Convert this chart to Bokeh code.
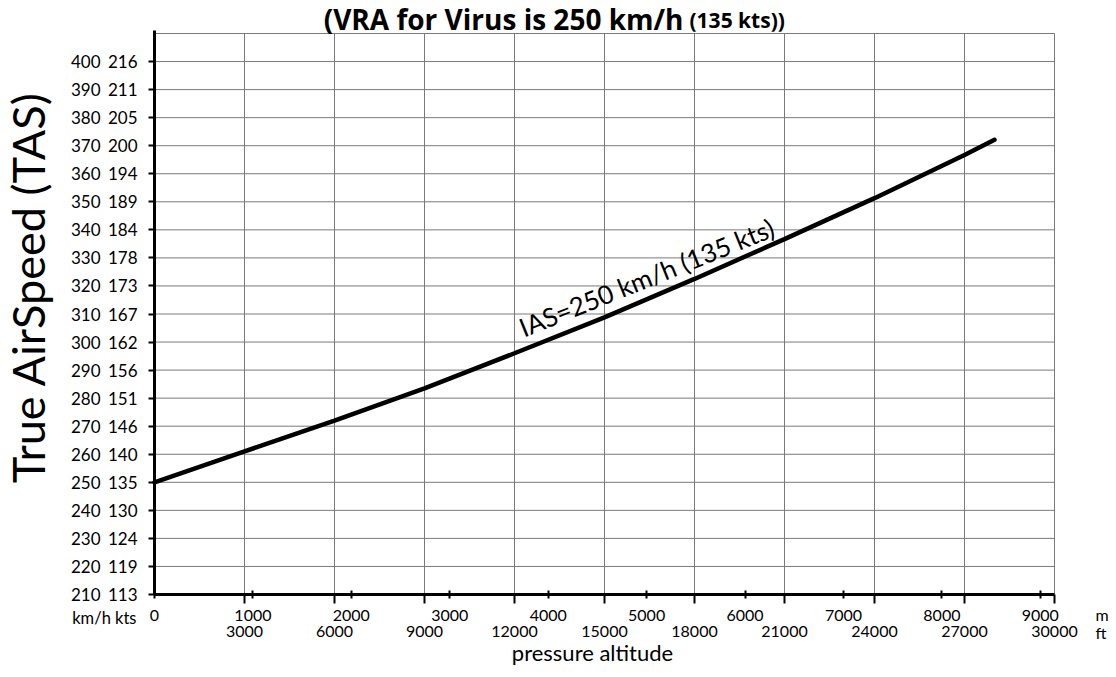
from bokeh.plotting import figure
from bokeh.models import Range1d, FixedTicker, LinearAxis, Label
from bokeh.embed import file_html
from bokeh.resources import INLINE

# ---- data ----
kmh_ticks = [210, 220, 230, 240, 250, 260, 270, 280, 290, 300,
             310, 320, 330, 340, 350, 360, 370, 380, 390, 400]
kts_labels = ["113", "119", "124", "130", "135", "140", "146", "151", "156", "162",
              "167", "173", "178", "184", "189", "194", "200", "205", "211", "216"]
alt_m_labels = [0, 1000, 2000, 3000, 4000, 5000, 6000, 7000, 8000, 9000]
alt_ft_labels = [3000, 6000, 9000, 12000, 15000, 18000, 21000, 24000, 27000, 30000]
grid_kmh = [220, 230, 240, 250, 260, 270, 280, 290, 300, 310, 320, 330,
            340, 350, 360, 370, 380, 390, 400, 410]
curve_alt_ft = [0, 3000, 6000, 9000, 12000, 15000, 18000, 21000, 24000, 27000, 28000]
curve_tas_kmh = [250.0, 261.0, 272.0, 283.5, 296.0, 308.8, 322.5, 336.7, 351.3, 366.7, 372.1]
FT_PER_M = 3.28084
ALT_MIN, ALT_MAX = 0, 30000
KMH_MIN, KMH_MAX = 210, 410

# ---- layout (the frame spans the whole canvas; axes are placed at fixed locations) ----
W, H = 1116, 677
AX_X, AX_Y = 154, 594          # pixel position of the axis corner
PX_PER_FT = 900 / 30000
PX_PER_KMH = 561 / 200


def fx(px):
    return (px - AX_X) / PX_PER_FT


def fy(py):
    return KMH_MIN + (AX_Y - py) / PX_PER_KMH


FONT = "Lato"
GRID = "#7a7a7a"

p = figure(width=W, height=H, x_range=Range1d(fx(0), fx(W)), y_range=Range1d(fy(H), fy(0)),
           output_backend="svg", toolbar_location=None, title=None,
           x_axis_location=None, y_axis_location=None, min_border=0)
p.outline_line_color = None
p.background_fill_color = "white"
p.border_fill_color = "white"
p.xgrid.visible = False
p.ygrid.visible = False

# grid lines (bounded to the chart area)
p.segment(x0=alt_ft_labels, y0=[KMH_MIN] * len(alt_ft_labels),
          x1=alt_ft_labels, y1=[KMH_MAX] * len(alt_ft_labels),
          line_color=GRID, line_width=1)
p.segment(x0=[ALT_MIN] * len(grid_kmh), y0=grid_kmh,
          x1=[ALT_MAX] * len(grid_kmh), y1=grid_kmh,
          line_color=GRID, line_width=1)

# left axes: kts (with the axis line) and km/h
ya = LinearAxis(fixed_location=ALT_MIN, bounds=(KMH_MIN, KMH_MAX + 1),
                ticker=FixedTicker(ticks=kmh_ticks),
                major_label_overrides={k: s for k, s in zip(kmh_ticks, kts_labels)},
                axis_line_width=3, axis_line_color="black",
                major_tick_line_width=2, major_tick_out=6, major_tick_in=0,
                minor_tick_out=0, minor_tick_in=0, major_label_standoff=11,
                major_label_text_font=FONT, major_label_text_font_size="17px",
                major_label_text_color="black")
p.add_layout(ya, "left")

yb = LinearAxis(fixed_location=fx(100), bounds=(KMH_MIN, KMH_MAX),
                ticker=FixedTicker(ticks=kmh_ticks),
                major_label_overrides={k: str(k) for k in kmh_ticks},
                axis_line_color=None, major_tick_line_color=None, minor_tick_line_color=None,
                major_tick_out=0, major_tick_in=0, minor_tick_out=0, minor_tick_in=0,
                major_label_standoff=0, major_label_text_font=FONT,
                major_label_text_font_size="17px", major_label_text_color="black")
p.add_layout(yb, "left")

# bottom axes: metres (with the axis line) and feet
m_pos = [m * FT_PER_M for m in alt_m_labels]
xa = LinearAxis(fixed_location=KMH_MIN, bounds=(ALT_MIN, ALT_MAX),
                ticker=FixedTicker(ticks=m_pos, minor_ticks=alt_ft_labels),
                major_label_overrides={pos: str(m) for pos, m in zip(m_pos, alt_m_labels)},
                axis_line_width=3, axis_line_color="black",
                major_tick_line_width=2, major_tick_in=4, major_tick_out=4,
                minor_tick_line_width=2, minor_tick_line_color="black",
                minor_tick_in=0, minor_tick_out=9, major_label_standoff=6,
                major_label_text_font=FONT, major_label_text_font_size="16px",
                major_label_text_color="black")
p.add_layout(xa, "below")

xb = LinearAxis(fixed_location=fy(623), bounds=(ALT_MIN, ALT_MAX),
                ticker=FixedTicker(ticks=alt_ft_labels),
                major_label_overrides={k: str(k) for k in alt_ft_labels},
                axis_line_color=None, major_tick_line_color=None, minor_tick_line_color=None,
                major_tick_out=0, major_tick_in=0, minor_tick_out=0, minor_tick_in=0,
                major_label_standoff=2, major_label_text_font=FONT,
                major_label_text_font_size="16px", major_label_text_color="black")
p.add_layout(xb, "below")

# curve
p.line(curve_alt_ft, curve_tas_kmh, line_width=4.5, line_color="black", line_cap="round")


# texts
def lab(px, py, text, **kw):
    base = dict(text_font=FONT, text_color="black", text_align="left", text_baseline="middle")
    base.update(kw)
    p.add_layout(Label(x=fx(px), y=fy(py), text=text, **base))


lab(646, 277, "IAS=250 km/h (135 kts)", text_font_size="26px",
    angle=22, angle_units="deg", text_align="center")
lab(136, 617, "km/h kts", text_font_size="16.5px", text_align="right")
lab(1095, 614, "m", text_font_size="16px")
lab(1095, 632, "ft", text_font_size="16px")
lab(592, 652, "pressure altitude", text_font_size="22px", text_align="center")
lab(27, 287, "True AirSpeed (TAS)", text_font_size="45px",
    angle=90, angle_units="deg", text_align="center")
lab(683, 18, "(VRA for Virus is 250 km/h", text_font="Open Sans", text_font_style="bold",
    text_font_size="28px", text_align="right")
lab(689, 19, "(135 kts))", text_font="Open Sans", text_font_style="bold",
    text_font_size="21px", text_align="left")

open("out.html", "w").write(file_html(p, INLINE))
